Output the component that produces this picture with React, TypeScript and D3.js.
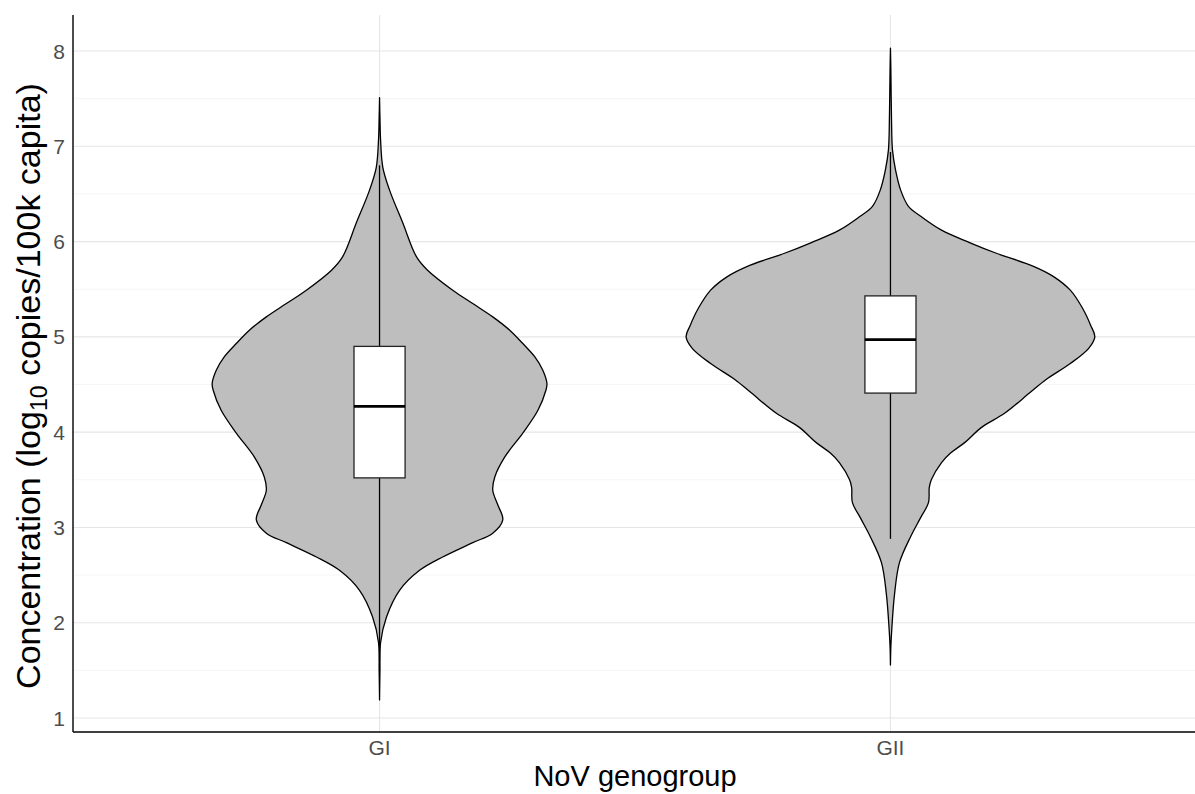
import React from 'react';
import * as d3 from 'd3';

const categories = ['GI', 'GII'];

// violin outline: value (log10) and relative density
const giLevels = [7.51, 7.3, 7.07, 6.78, 6.54, 6.2, 5.84, 5.7, 5.49, 5.35, 5.21, 5.07, 4.93, 4.79, 4.65, 4.51, 4.44, 4.23, 3.99, 3.74, 3.53, 3.39, 3.24, 3.08, 2.94, 2.84, 2.69, 2.55, 2.34, 2.06, 1.79, 1.5, 1.19];
const giDensity = [0, 0.002, 0.005, 0.016, 0.049, 0.113, 0.181, 0.235, 0.358, 0.456, 0.554, 0.637, 0.701, 0.76, 0.799, 0.819, 0.814, 0.775, 0.701, 0.613, 0.564, 0.554, 0.578, 0.603, 0.554, 0.456, 0.309, 0.196, 0.098, 0.034, 0.005, 0.002, 0];

const giiLevels = [8.03, 7.8, 7.31, 6.96, 6.75, 6.54, 6.37, 6.26, 6.12, 5.99, 5.88, 5.74, 5.63, 5.49, 5.3, 5.12, 5.0, 4.88, 4.72, 4.55, 4.41, 4.2, 4.05, 3.89, 3.78, 3.68, 3.5, 3.42, 3.26, 3.1, 2.9, 2.63, 2.3, 1.95, 1.75, 1.556];
const giiDensity = [0, 0.002, 0.005, 0.01, 0.025, 0.05, 0.088, 0.152, 0.25, 0.387, 0.515, 0.7, 0.8, 0.88, 0.94, 0.98, 1.0, 0.97, 0.88, 0.76, 0.68, 0.56, 0.446, 0.363, 0.294, 0.25, 0.2, 0.19, 0.186, 0.147, 0.098, 0.044, 0.02, 0.007, 0.002, 0];

// boxplot stats
const boxQ1 = [3.52, 4.41];
const boxMedian = [4.27, 4.97];
const boxQ3 = [4.9, 5.43];
const whiskerLow = [1.6, 2.88];
const whiskerHigh = [6.8, 6.94];

const yTicks = [1, 2, 3, 4, 5, 6, 7, 8];
const yMinor = [1.5, 2.5, 3.5, 4.5, 5.5, 6.5, 7.5];

const width = 1195;
const height = 794;
const left = 73;
const right = 1197;
const top = 15;
const bottom = 732;

const font = '"Liberation Sans", Arial, sans-serif';

const App: React.FC = () => {
  const x = d3.scalePoint<string>().domain(categories).range([left, right]).padding(0.6);
  const y = d3.scaleLinear().domain([0.853, 8.378]).range([bottom, top]);
  const w = d3.scaleLinear().domain([0, 1]).range([0, x.step() * 0.4]);
  const boxHalf = x.step() * 0.05;

  const violins = [
    { levels: giLevels, dens: giDensity },
    { levels: giiLevels, dens: giiDensity },
  ];

  return (
    <svg width={width} height={height} style={{ position: 'absolute', left: 0, top: 0, background: '#fff' }}>
      {/* grid */}
      {yMinor.map((t) => (
        <line key={'m' + t} x1={left} x2={right} y1={y(t)} y2={y(t)} stroke="#f2f2f2" strokeWidth={0.8} />
      ))}
      {yTicks.map((t) => (
        <line key={'g' + t} x1={left} x2={right} y1={y(t)} y2={y(t)} stroke="#e6e6e6" strokeWidth={1.1} />
      ))}
      {categories.map((c) => (
        <line key={'v' + c} x1={x(c)} x2={x(c)} y1={top} y2={bottom} stroke="#e6e6e6" strokeWidth={1.1} />
      ))}

      {/* violins */}
      {violins.map((v, i) => {
        const cx = x(categories[i]) as number;
        const pts = v.levels.map((lv, j) => [lv, v.dens[j]] as [number, number]);
        const area = d3
          .area<[number, number]>()
          .y((d) => y(d[0]))
          .x0((d) => cx - w(d[1]))
          .x1((d) => cx + w(d[1]))
          .curve(d3.curveCatmullRom.alpha(0.5));
        return (
          <path key={'vi' + i} d={area(pts) || ''} fill="#bebebe" stroke="#000" strokeWidth={1.3} strokeLinejoin="round" />
        );
      })}

      {/* boxplots */}
      {categories.map((c, i) => {
        const cx = x(c) as number;
        return (
          <g key={'b' + c}>
            <line x1={cx} x2={cx} y1={y(whiskerHigh[i])} y2={y(boxQ3[i])} stroke="#000" strokeWidth={1.3} />
            <line x1={cx} x2={cx} y1={y(boxQ1[i])} y2={y(whiskerLow[i])} stroke="#000" strokeWidth={1.3} />
            <rect
              x={cx - boxHalf}
              y={y(boxQ3[i])}
              width={boxHalf * 2}
              height={y(boxQ1[i]) - y(boxQ3[i])}
              fill="#fff"
              stroke="#222"
              strokeWidth={1.3}
            />
            <line x1={cx - boxHalf} x2={cx + boxHalf} y1={y(boxMedian[i])} y2={y(boxMedian[i])} stroke="#000" strokeWidth={2.8} />
          </g>
        );
      })}

      {/* axes */}
      <line x1={left} x2={left} y1={top} y2={bottom} stroke="#000" strokeWidth={1.4} />
      <line x1={left} x2={right} y1={bottom} y2={bottom} stroke="#000" strokeWidth={1.4} />

      {yTicks.map((t) => (
        <text key={'yl' + t} x={65} y={y(t)} dy="0.36em" textAnchor="end" fontFamily={font} fontSize={21} fill="#4d4d4d">
          {t}
        </text>
      ))}
      {categories.map((c) => (
        <text key={'xl' + c} x={x(c)} y={755} textAnchor="middle" fontFamily={font} fontSize={21} fill="#4d4d4d">
          {c}
        </text>
      ))}

      <text x={(left + right) / 2} y={786} textAnchor="middle" fontFamily={font} fontSize={29} fill="#000">
        NoV genogroup
      </text>
      <text
        transform={`translate(40, 386) rotate(-90)`}
        textAnchor="middle"
        fontFamily={font}
        fontSize={34}
        fill="#000"
      >
        Concentration (log
        <tspan fontSize={23} dy={7}>10</tspan>
        <tspan dy={-7}> copies/100k capita)</tspan>
      </text>
    </svg>
  );
};

export default App;
